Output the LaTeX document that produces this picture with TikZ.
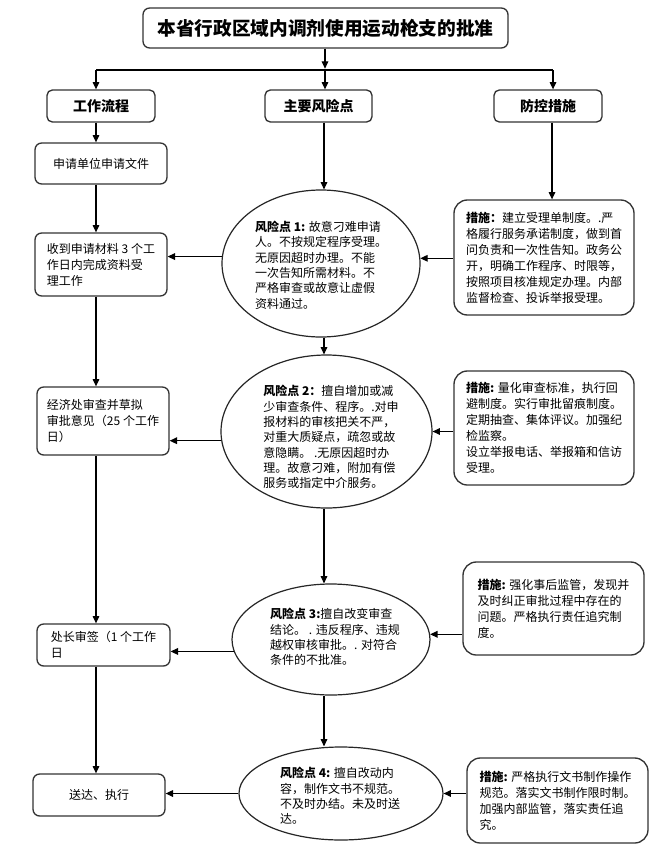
\documentclass[tikz,border=0pt]{standalone}
\usepackage{fontspec}
\setmainfont{Noto Sans CJK SC}
\usetikzlibrary{shapes.geometric,arrows.meta}
\begin{document}
\begin{tikzpicture}[x=0.75pt,y=-0.75pt,
  line width=0.8pt,
  arr/.style={-{Triangle[length=5.5pt,width=5pt]}},
  titlebox/.style={draw=black!80, rounded corners=5pt, line width=1pt, minimum width=273.75pt, minimum height=30pt, font=\fontsize{14}{16}\selectfont\bfseries, inner sep=0pt},
  headbox/.style={draw=black!80, rounded corners=4pt, line width=1pt, minimum height=24pt, font=\fontsize{10.5}{12}\selectfont\bfseries, inner sep=0pt},
  leftbox/.style={draw=black!80, rounded corners=5pt, line width=1pt, inner sep=0pt, font=\fontsize{9}{12}\selectfont, align=left},
  rightbox/.style={draw=black!80, rounded corners=10pt, line width=1pt, inner sep=0pt, font=\fontsize{9}{12}\selectfont, align=left},
  riskell/.style={draw=black!85, ellipse, line width=0.9pt, inner sep=0pt},
  risktext/.style={font=\fontsize{9}{11.5}\selectfont, align=left, inner sep=0pt},
]
\fill[white] (0,0) rectangle (667,853);
\useasboundingbox (0,0) rectangle (667,853);

% title and headers
\node[titlebox] (T) at (325.5,28) {本省行政区域内调剂使用运动枪支的批准};
\coordinate (B0) at (325,70);
\coordinate (BL) at (96,70);
\coordinate (BR) at (553,70);
\draw[line width=2.2pt] (BL) -- (BR);
\draw[arr, shorten >=1pt] (T.south -| B0) -- (B0);

\node[headbox, minimum width=81pt] (H1) at (101,106) {工作流程};
\node[headbox, minimum width=80.25pt] (H2) at (318.5,106) {主要风险点};
\node[headbox, minimum width=81pt] (H3) at (548,106) {防控措施};
\draw[arr] (BL) -- (BL |- H1.north);
\draw[arr] (B0) -- (B0 |- H2.north);
\draw[arr] (BR) -- (BR |- H3.north);

% left column
\node[leftbox, align=center, minimum width=99pt, minimum height=30.75pt] (L1) at (101,163.5) {申请单位申请文件};
\node[leftbox, minimum width=99pt, minimum height=47.25pt] (L2) at (101,264.5) {收到申请材料 3 个工\\作日内完成资料受\\理工作};
\node[leftbox, minimum width=99pt, minimum height=51pt] (L3) at (103,421) {经济处审查并草拟\\审批意见（25 个工作\\日）};
\node[leftbox, minimum width=99.75pt, minimum height=31.5pt] (L4) at (103.5,645) {处长审签（1 个工作\\日};
\node[leftbox, align=center, minimum width=99pt, minimum height=31.5pt] (L5) at (99,795) {送达、执行};
\coordinate (LX) at (96,0);
\draw[arr] (H1.south -| LX) -- (L1.north -| LX);
\draw[arr] (L1.south -| LX) -- (L2.north -| LX);
\draw[arr] (L2.south -| LX) -- (L3.north -| LX);
\draw[arr] (L3.south -| LX) -- (L4.north -| LX);
\draw[arr] (L4.south -| LX) -- (L5.north -| LX);

% middle column
\node[riskell, minimum width=148.5pt, minimum height=110.25pt] (E1) at (321,263.5) {};
\node[risktext] (E1t) at (321,265) {{\bfseries 风险点 1:} 故意刁难申请\\人。不按规定程序受理。\\无原因超时办理。不能\\一次告知所需材料。不\\严格审查或故意让虚假\\资料通过。};
\node[riskell, minimum width=158.25pt, minimum height=114.75pt] (E2) at (326.5,431.5) {};
\node[risktext] (E2t) at (331,437) {{\bfseries 风险点 2：}擅自增加或减\\少审查条件、程序。.对申\\报材料的审核把关不严，\\对重大质疑点，疏忽或故\\意隐瞒。 .无原因超时办\\理。故意刁难，附加有偿\\服务或指定中介服务。};
\node[riskell, minimum width=148.5pt, minimum height=83.25pt] (E3) at (331,639.5) {};
\node[risktext] (E3t) at (335,637) {{\bfseries 风险点 3:}擅自改变审查\\结论。 . 违反程序、违规\\越权审核审批。. 对符合\\条件的不批准。};
\node[riskell, minimum width=153pt, minimum height=69.75pt] (E4) at (341,793.5) {};
\node[risktext] (E4t) at (340,796) {{\bfseries 风险点 4:} 擅自改动内\\容，制作文书不规范。\\不及时办结。未及时送\\达。};
\coordinate (MX) at (324,0);
\draw[arr] (H2.south -| MX) -- (E1.north -| MX);
\draw[arr] (E1.south -| MX) -- (E2.north -| MX);
\draw[arr] (E2.south -| MX) -- (E3.north -| MX);
\draw[arr] (E3.south -| MX) -- (E4.north -| MX);

% right column
\node[rightbox, minimum width=135pt, minimum height=86.25pt] (R1) at (544,257.5) {{\bfseries 措施：}建立受理单制度。.严\\格履行服务承诺制度，做到首\\问负责和一次性告知。政务公\\开，明确工作程序、时限等，\\按照项目核准规定办理。内部\\监督检查、投诉举报受理。};
\node[rightbox, minimum width=135pt, minimum height=85.5pt] (R2) at (544,428) {{\bfseries 措施:} 量化审查标准，执行回\\避制度。实行审批留痕制度。\\定期抽查、集体评议。加强纪\\检监察。\\设立举报电话、举报箱和信访\\受理。};
\node[rightbox, minimum width=135.75pt, minimum height=69.75pt] (R3) at (553.5,608.5) {{\bfseries 措施:} 强化事后监管，发现并\\及时纠正审批过程中存在的\\问题。严格执行责任追究制\\度。};
\node[rightbox, minimum width=135.75pt, minimum height=63.75pt] (R4) at (557.5,800.5) {{\bfseries 措施:} 严格执行文书制作操作\\规范。落实文书制作限时制。\\加强内部监管，落实责任追\\究。};
\coordinate (RX) at (552,0);
\draw[arr] (H3.south -| RX) -- (R1.north -| RX);

% horizontal connectors
\draw[arr] (R1.west |- E1.3) -- (E1.3);
\draw[arr] (E1.176) -- (L2.east |- E1.176);
\draw[arr] (R2.west |- E2.east) -- (E2.east);
\draw[arr] (E2.185) -- (L3.east |- E2.185);
\draw[arr] (R3.west |- E3.3) -- (E3.3);
\draw[arr] (E3.187) -- (L4.east |- E3.187);
\draw[arr] (R4.west |- E4.east) -- (E4.east);
\draw[arr] (E4.west) -- (L5.east |- E4.west);
\end{tikzpicture}
\end{document}
